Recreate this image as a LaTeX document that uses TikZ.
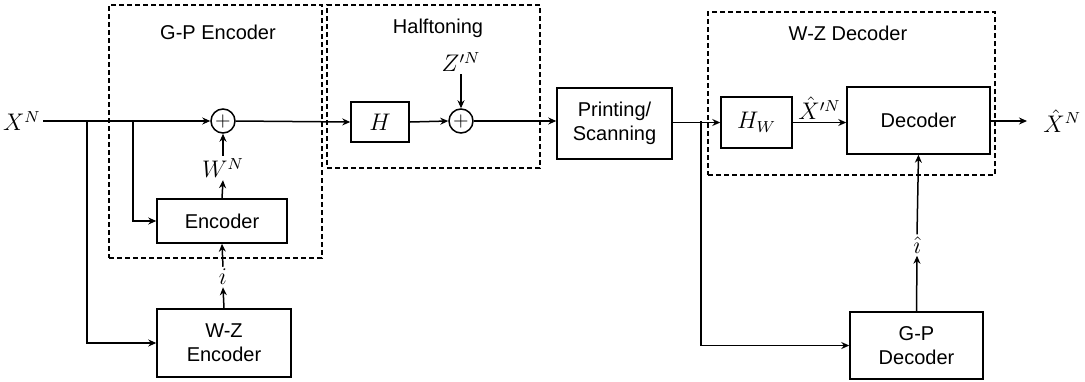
\documentclass[tikz,border=0pt]{standalone}
\usepackage{fontspec}
\setsansfont{Liberation Sans}
\usepackage{tikz}
\usetikzlibrary{arrows.meta}

\begin{document}
\begin{tikzpicture}[x=0.5pt, y=-0.5pt]
  \tikzstyle{block}=[draw, line width=0.75pt, inner sep=0pt, align=center, font=\sffamily]
  \tikzstyle{adder}=[draw, circle, line width=0.75pt, minimum size=12pt, inner sep=0pt]
  \tikzstyle{group}=[draw, line width=1pt, dash pattern=on 2.5pt off 1.5pt, inner sep=0pt]
  \tikzstyle{title}=[font=\sffamily, inner sep=0pt]
  \tikzstyle{lbl}=[font=\large, inner sep=1pt]
  \tikzstyle{sig}=[line width=0.75pt, -{Stealth[length=4pt, width=3.5pt]}]
  \useasboundingbox (0,0) rectangle (1085,381);

  % dashed groups
  \node (GPEnc)[group, minimum width=106.5pt, minimum height=126.5pt] at (215.5,131.5) {};
  \node (Half)[group, minimum width=106.5pt, minimum height=81.5pt] at (433.5,86.5) {};
  \node (WZDec)[group, minimum width=143.5pt, minimum height=81.5pt] at (851.5,93.5) {};
  \node[title] at (218,32) {G-P Encoder};
  \node[title] at (438,28) {Halftoning};
  \node[title] at (848,33) {W-Z Decoder};

  % blocks
  \node (Enc)[block, minimum width=65pt, minimum height=22pt] at (222,221) {Encoder};
  \node (WZEnc)[block, minimum width=67pt, minimum height=34pt] at (224,343) {W-Z\\Encoder};
  \node (H)[block, font=\large, minimum width=29pt, minimum height=20pt] at (380,122) {$H$};
  \node (Print)[block, minimum width=57.5pt, minimum height=35.5pt] at (614.5,123.5) {Printing/\\Scanning};
  \node (HW)[block, font=\large, minimum width=35.5pt, minimum height=25.5pt] at (756.5,122.5) {$H_{W}$};
  \node (Dec)[block, minimum width=71.5pt, minimum height=33.5pt] at (918.5,120.5) {Decoder};
  \node (GPDec)[block, minimum width=66.5pt, minimum height=33.5pt] at (916.5,345.5) {G-P\\Decoder};
  \node (AddA)[adder] at (223,121) {$+$};
  \node (AddB)[adder] at (461,121) {$+$};

  % signal labels
  \node (XN)[lbl, anchor=east] at (43,121) {$X^{N}$};
  \node (WN)[lbl] at (223,168) {$W^{N}$};
  \node (ILbl)[lbl] at (223,277) {$i$};
  \node (ZN)[lbl] at (461,62) {$Z'^{N}$};
  \node (IHat)[lbl] at (917,245) {$\hat{\imath}$};
  \node (XHat)[lbl, anchor=west, inner sep=0pt] at (1043,121) {$\hat{X}^{N}$};
  \coordinate (BrA) at (87,121);
  \coordinate (BrB) at (133,121);
  \coordinate (BrC) at (701,121);

  % connections
  \draw[sig] (XN.east) -- (AddA.west);
  \draw[sig] (BrA) |- (WZEnc.west);
  \draw[sig] (BrB) |- (Enc.west);
  \draw[sig] (Enc.north) -- (WN.south);
  \draw[sig] (WN.north) -- (AddA.south);
  \draw[sig] (WZEnc.north) -- (ILbl.south);
  \draw[sig] (ILbl.north) -- (Enc.south);
  \draw[sig] (AddA.east) -- (H.west);
  \draw[sig] (H.east) -- (AddB.west);
  \draw[sig] (ZN.south) -- (AddB.north);
  \draw[sig] (AddB.east) -- (AddB.east -| Print.west);
  \draw[sig] (Print.east |- HW.west) -- (HW.west);
  \draw[sig] (BrC) |- (GPDec.west);
  \draw[sig] (HW.east) -- node[lbl, above] {$\hat{X}'^{N}$} (HW.east -| Dec.west);
  \draw[sig] (GPDec.north) -- (IHat.south);
  \draw[sig] (IHat.north) -- (Dec.south);
  \draw[sig, shorten >=8pt] (Dec.east |- XHat.west) -- (XHat.west);
\end{tikzpicture}
\end{document}
